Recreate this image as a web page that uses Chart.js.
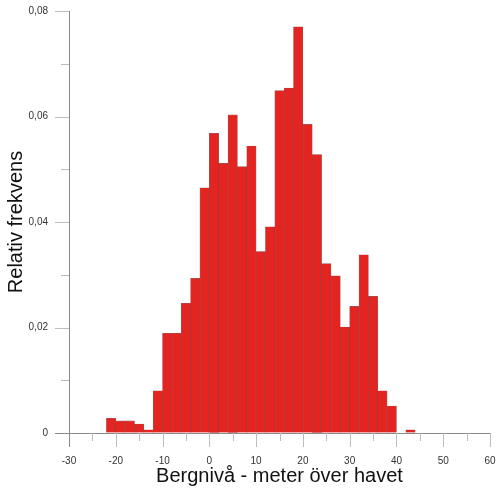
<!DOCTYPE html>
<html>
<head>
<meta charset="utf-8">
<script src="https://cdn.jsdelivr.net/npm/chart.js@4/dist/chart.umd.min.js"></script>
<style>
html,body{margin:0;padding:0;background:#fff;}
canvas{display:block;}
</style>
</head>
<body>
<canvas id="c" width="498" height="490"></canvas>
<script>
// Bin centres (bins of width 2 m, from -22 to 44)
const binCenters = [-21,-19,-17,-15,-13,-11,-9,-7,-5,-3,-1,1,3,5,7,9,11,13,15,17,19,21,23,25,27,29,31,33,35,37,39,41,43];
// Relative frequency per bin
const relFreq = [0.0028,0.0023,0.0023,0.0017,0.0006,0.0080,0.0189,0.0189,0.0246,0.0293,0.0465,0.0568,0.0511,0.0603,0.0505,0.0544,0.0344,0.0391,0.0649,0.0654,0.0770,0.0585,0.0528,0.0321,0.0298,0.0201,0.0240,0.0338,0.0259,0.0080,0.0051,0,0.0006];
// Tick labels
const yTickValues = [0, 0.02, 0.04, 0.06, 0.08];
const yTickLabels = ['0', '0,02', '0,04', '0,06', '0,08'];
const xTickValues = [-30, -20, -10, 0, 10, 20, 30, 40, 50, 60];
const xTickLabels = ['-30', '-20', '-10', '0', '10', '20', '30', '40', '50', '60'];
const xMinorTicks = [-25, -15, -5, 5, 15, 25, 35, 45, 55];
const yMinorTicks = [0.01, 0.03, 0.05, 0.07];
const xTitle = 'Bergnivå - meter över havet';
const yTitle = 'Relativ frekvens';

Chart.defaults.font.family = "'Liberation Sans', Arial, sans-serif";

const AXIS_COLOR = '#8a8a8a';
const TICK_COLOR = '#bdbdbd';

const tickPlugin = {
  id: 'customTicks',
  afterDraw(chart) {
    const ctx = chart.ctx;
    const xs = chart.scales.x, ys = chart.scales.y;
    const area = chart.chartArea;
    ctx.save();
    ctx.lineWidth = 1;
    const drawY = (v, len, col) => {
      const py = Math.round(ys.getPixelForValue(v)) + 0.5;
      ctx.strokeStyle = col;
      ctx.beginPath();
      ctx.moveTo(area.left - len, py);
      ctx.lineTo(area.left, py);
      ctx.stroke();
    };
    yTickValues.forEach(v => drawY(v, 14, v === 0 ? AXIS_COLOR : TICK_COLOR));
    yMinorTicks.forEach(v => drawY(v, 8, TICK_COLOR));
    const drawX = (v, len, col) => {
      const px = Math.round(xs.getPixelForValue(v)) + 0.5;
      ctx.strokeStyle = col;
      ctx.beginPath();
      ctx.moveTo(px, area.bottom);
      ctx.lineTo(px, area.bottom + len);
      ctx.stroke();
    };
    xTickValues.forEach(v => drawX(v, 14, v === -30 ? AXIS_COLOR : TICK_COLOR));
    xMinorTicks.forEach(v => drawX(v, 8, TICK_COLOR));
    ctx.restore();
  }
};

new Chart(document.getElementById('c'), {
  type: 'bar',
  data: {
    datasets: [{
      data: binCenters.map((c, i) => ({x: c, y: relFreq[i]})),
      backgroundColor: 'rgb(228,36,33)',
      borderColor: 'rgba(110,20,18,0.7)',
      borderWidth: 0.6,
      barPercentage: 1,
      categoryPercentage: 1,
      borderSkipped: 'bottom'
    }]
  },
  options: {
    responsive: false,
    animation: false,
    layout: { padding: { top: 11, right: 8, left: 0, bottom: 0 } },
    plugins: { legend: { display: false }, tooltip: { enabled: false } },
    scales: {
      x: {
        type: 'linear',
        min: -30, max: 60,
        offset: false,
        afterFit: s => { s.height = 57; s.paddingLeft = 0; s.paddingRight = 0; },
        afterBuildTicks: s => { s.ticks = xTickValues.map(v => ({value: v})); },
        ticks: {
          autoSkip: false,
          maxRotation: 0,
          padding: 8,
          color: '#333',
          font: { size: 10 },
          callback: (v) => { const i = xTickValues.indexOf(v); return i >= 0 ? xTickLabels[i] : ''; }
        },
        grid: { display: true, drawOnChartArea: false, drawTicks: true, tickLength: 14, color: 'rgba(0,0,0,0)' },
        border: { display: true, color: AXIS_COLOR, width: 1 },
        title: { display: true, text: xTitle, color: '#111', font: { size: 20 }, padding: { top: 0, bottom: 2 } }
      },
      y: {
        min: 0, max: 0.08,
        afterFit: s => { s.width = 69; s.paddingTop = 0; s.paddingBottom = 0; },
        afterBuildTicks: s => { s.ticks = yTickValues.map(v => ({value: v})); },
        ticks: {
          autoSkip: false,
          padding: 7,
          color: '#333',
          font: { size: 10 },
          callback: (v) => { const i = yTickValues.findIndex(t => Math.abs(t - v) < 1e-9); return i >= 0 ? yTickLabels[i] : ''; }
        },
        grid: { display: true, drawOnChartArea: false, drawTicks: true, tickLength: 14, color: 'rgba(0,0,0,0)' },
        border: { display: true, color: AXIS_COLOR, width: 1 },
        title: { display: true, text: yTitle, color: '#111', font: { size: 20 }, padding: { top: 4, bottom: 0 } }
      }
    }
  },
  plugins: [tickPlugin]
});
</script>
</body>
</html>
